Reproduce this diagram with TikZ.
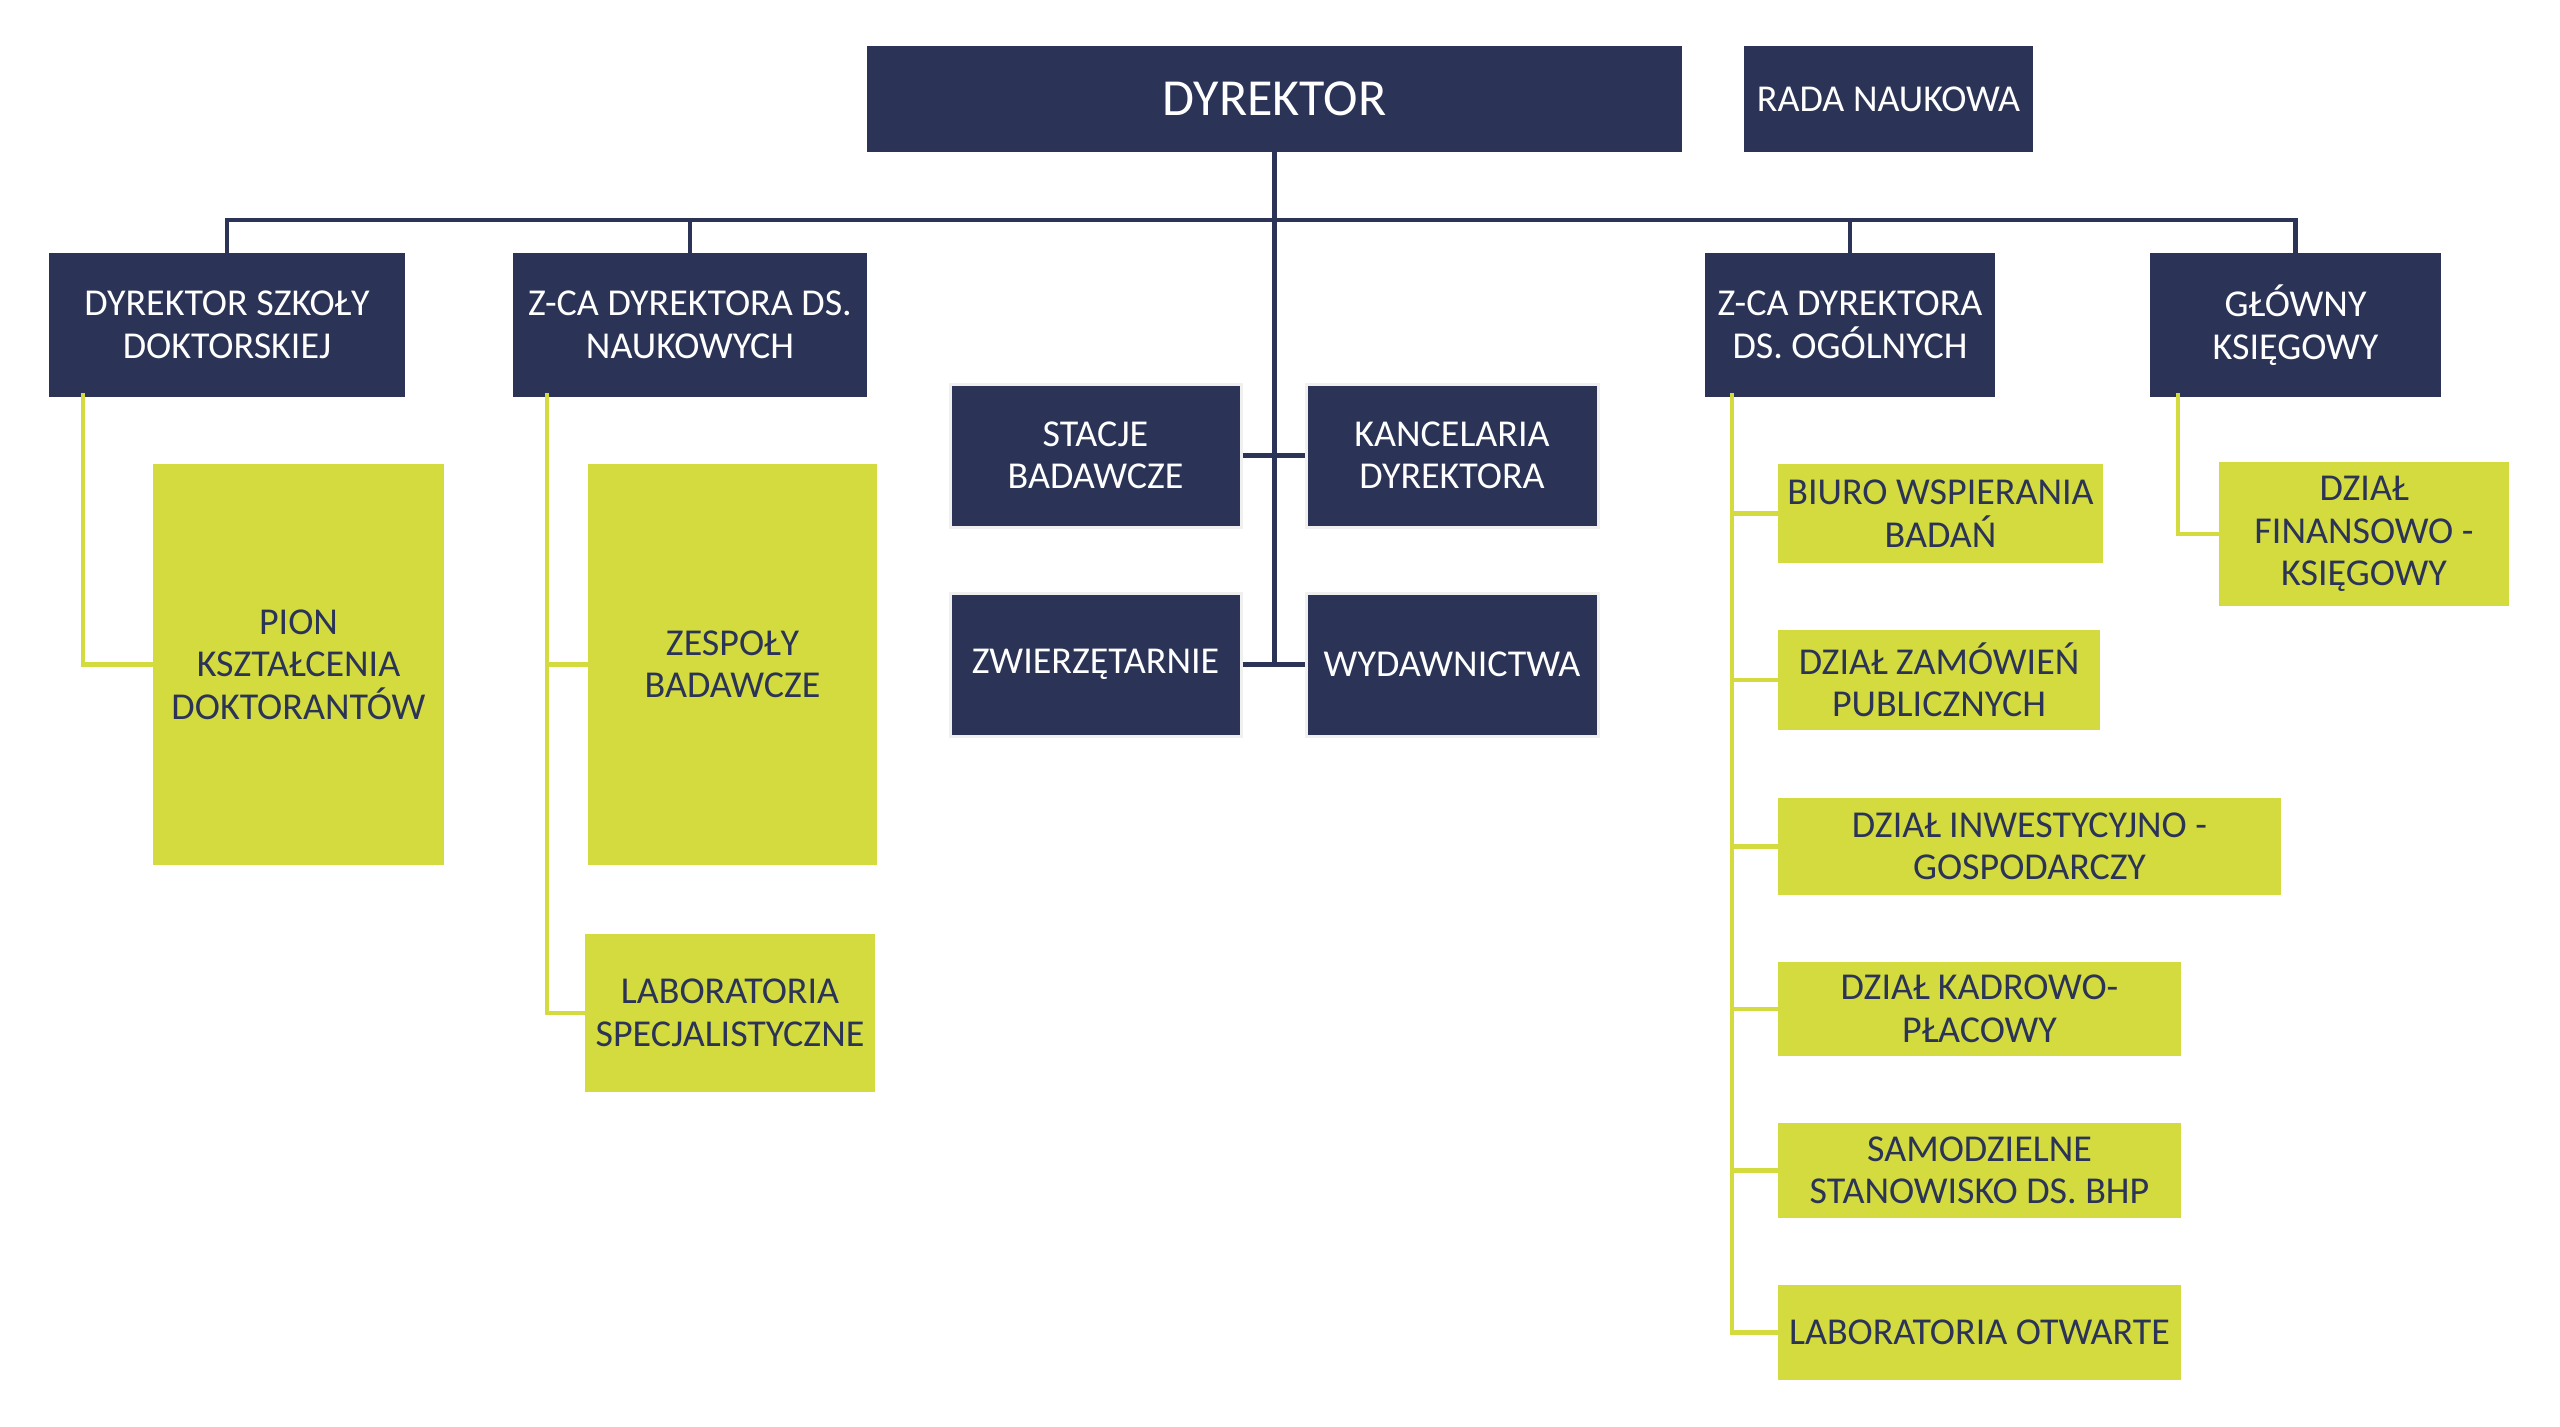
\documentclass[tikz,border=0pt]{standalone}
\usepackage{fontspec}
\setmainfont{Carlito}
\definecolor{navy}{HTML}{2B3457}
\definecolor{lime}{HTML}{D4DB3F}
\begin{document}
\begin{tikzpicture}[x=1pt,y=-1pt,
  darkbox/.style={rectangle,fill=navy,text=white,align=center,inner sep=0pt,font=\fontsize{38}{42.5}\selectfont},
  limebox/.style={rectangle,fill=lime,text=navy,align=center,inner sep=0pt,font=\fontsize{38}{42.5}\selectfont},
  framed/.style={draw=gray!12,line width=3pt},
  navyline/.style={draw=navy,line width=4.5pt},
  limeline/.style={draw=lime,line width=4.5pt}]
\useasboundingbox (0,0) rectangle (2560,1427);
% top
\node[darkbox,minimum width=815pt,minimum height=106pt,font=\fontsize{52}{60}\selectfont] (dir) at (1274.5,99) {DYREKTOR};
\node[darkbox,minimum width=289pt,minimum height=106pt] (rada) at (1888.5,99) {RADA NAUKOWA};
% second level
\node[darkbox,minimum width=356pt,minimum height=144pt] (dsd) at (227,325) {DYREKTOR SZKOŁY\\DOKTORSKIEJ};
\node[darkbox,minimum width=354pt,minimum height=144pt] (zdn) at (690,325) {Z-CA DYREKTORA DS.\\NAUKOWYCH};
\node[darkbox,minimum width=290pt,minimum height=144pt] (zdo) at (1850,325) {Z-CA DYREKTORA\\DS. OGÓLNYCH};
\node[darkbox,minimum width=291pt,minimum height=144pt] (gk) at (2295.5,325) {GŁÓWNY\\KSIĘGOWY};
% centre
\node[darkbox,framed,minimum width=291pt,minimum height=143pt] (stacje) at (1095.5,455.5) {STACJE\\BADAWCZE};
\node[darkbox,framed,minimum width=292pt,minimum height=143pt] (kanc) at (1452,455.5) {KANCELARIA\\DYREKTORA};
\node[darkbox,framed,minimum width=291pt,minimum height=143pt] (zwierz) at (1095.5,664.5) {ZWIERZĘTARNIE};
\node[darkbox,framed,minimum width=292pt,minimum height=143pt] (wyd) at (1452,664.5) {WYDAWNICTWA};
% lime left
\node[limebox,minimum width=291pt,minimum height=401pt] (pion) at (298.5,664.5) {PION\\KSZTAŁCENIA\\DOKTORANTÓW};
\node[limebox,minimum width=289pt,minimum height=401pt] (zesp) at (732.5,664.5) {ZESPOŁY\\BADAWCZE};
\node[limebox,minimum width=290pt,minimum height=158pt] (labspec) at (730,1013) {LABORATORIA\\SPECJALISTYCZNE};
% lime right
\node[limebox,minimum width=325pt,minimum height=99pt] (biuro) at (1940.5,513.5) {BIURO WSPIERANIA\\BADAŃ};
\node[limebox,minimum width=322pt,minimum height=100pt] (zam) at (1939,680) {DZIAŁ ZAMÓWIEŃ\\PUBLICZNYCH};
\node[limebox,minimum width=503pt,minimum height=97pt] (inw) at (2029.5,846.5) {DZIAŁ INWESTYCYJNO -\\GOSPODARCZY};
\node[limebox,minimum width=403pt,minimum height=94pt] (kadr) at (1979.5,1009) {DZIAŁ KADROWO-\\PŁACOWY};
\node[limebox,minimum width=403pt,minimum height=95pt] (bhp) at (1979.5,1170.5) {SAMODZIELNE\\STANOWISKO DS. BHP};
\node[limebox,minimum width=403pt,minimum height=95pt] (labotw) at (1979.5,1332.5) {LABORATORIA OTWARTE};
\node[limebox,minimum width=290pt,minimum height=144pt] (fin) at (2364,534) {DZIAŁ\\FINANSOWO -\\KSIĘGOWY};
% navy connectors
\coordinate (busL) at (227,220);
\coordinate (busR) at (2296,220);
\draw[navyline] (dsd.north) -- (dsd.north |- busL) -- (gk.north |- busR) -- (gk.north);
\draw[navyline] (zdn.north) -- (zdn.north |- busL);
\draw[navyline] (zdo.north) -- (zdo.north |- busL);
\draw[navyline] ([yshift=5pt]dir.south) -- (dir.south |- zwierz.east);
\draw[navyline] (stacje.east) -- (kanc.west);
\draw[navyline] (zwierz.east) -- (wyd.west);
% lime connectors
\draw[limeline] ([xshift=34pt,yshift=4pt]dsd.south west) |- (pion.west);
\draw[limeline] ([xshift=34pt,yshift=4pt]zdn.south west) |- (labspec.west);
\draw[limeline] (zesp.west) -- (zesp.west -| 547,0);
\draw[limeline] ([xshift=27pt,yshift=4pt]zdo.south west) |- (labotw.west);
\draw[limeline] (biuro.west) -- (biuro.west -| 1732,0);
\draw[limeline] (zam.west) -- (zam.west -| 1732,0);
\draw[limeline] (inw.west) -- (inw.west -| 1732,0);
\draw[limeline] (kadr.west) -- (kadr.west -| 1732,0);
\draw[limeline] (bhp.west) -- (bhp.west -| 1732,0);
\draw[limeline] ([xshift=28pt,yshift=4pt]gk.south west) |- (fin.west);
\end{tikzpicture}
\end{document}
